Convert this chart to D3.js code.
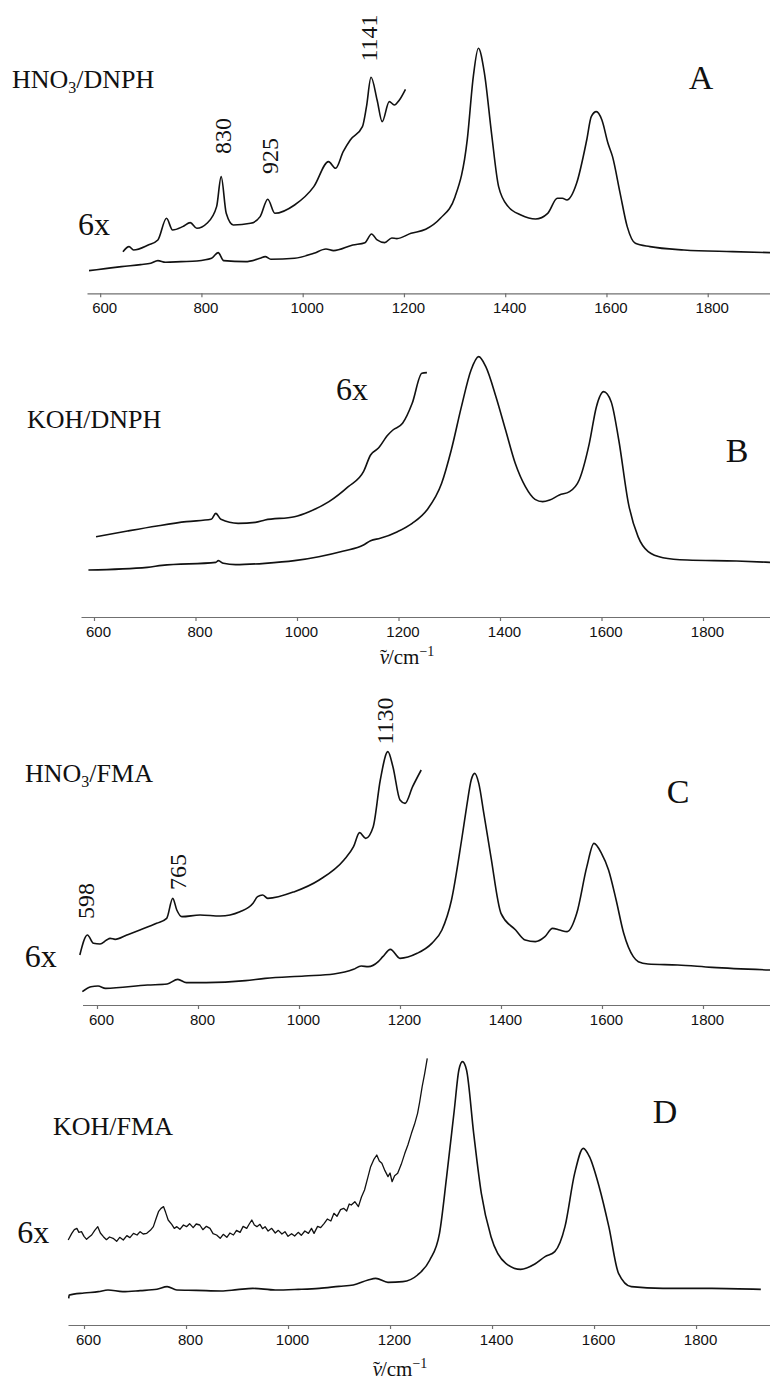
<!DOCTYPE html>
<html>
<head>
<meta charset="utf-8">
<script src="https://cdn.jsdelivr.net/npm/d3@7"></script>
<style>
body { margin: 0; background: #fff; }
.spec { fill: none; stroke: #111; stroke-width: 1.6; stroke-linejoin: round; }
.spec--noisy { stroke-width: 1.3; }
.axis path, .axis line { stroke: #707070; stroke-width: 1.2; }
.axis text { font-family: "Liberation Sans", Arial, sans-serif; font-size: 15px; fill: #111; }
.serif { font-family: "Liberation Serif", "Times New Roman", serif; fill: #111; }
</style>
</head>
<body>
<svg id="chart" width="770" height="1383"></svg>
<script>
/* global d3 */

// tick labels shared by the four panels (cm-1)
const tickValues = [600, 800, 1000, 1200, 1400, 1600, 1800]

// spectra: [wavenumber cm-1, intensity a.u.]
const specAMain = [[578,6.8],[610,7.4],[642,8.0],[680,8.6],[700,9.0],[714,9.8],[729,9.3],[760,9.5],[791,9.7],[820,10.5],[833,12.2],[844,9.8],[887,9.5],[916,10.5],[926,11.0],[937,10.2],[984,10.5],[1022,12.0],[1046,13.3],[1061,12.8],[1099,14.5],[1123,15.2],[1136,17.8],[1147,16.0],[1162,15.2],[1176,16.6],[1186,16.4],[1214,18.0],[1243,19.2],[1272,22.5],[1301,29.0],[1325,46.0],[1337,65.0],[1347,73.5],[1359,66.0],[1373,48.0],[1387,32.0],[1406,26.0],[1431,23.5],[1460,22.3],[1484,24.0],[1503,28.5],[1513,28.5],[1522,28.0],[1541,33.0],[1561,46.0],[1570,53.0],[1580,54.5],[1591,52.0],[1603,45.0],[1612,41.0],[1627,30.0],[1641,20.0],[1657,15.0],[1686,14.0],[1753,13.0],[1849,12.5],[1923,12.2]]
const specA6x = [[645,12.5],[657,14.0],[666,13.0],[695,14.5],[714,16.0],[731,22.5],[743,19.0],[763,20.0],[778,21.2],[791,19.5],[811,21.0],[830,26.0],[839,35.0],[849,24.0],[863,20.5],[897,21.0],[916,23.0],[931,28.2],[945,24.0],[984,26.5],[1022,32.0],[1051,39.5],[1065,37.5],[1080,42.5],[1094,46.0],[1118,50.0],[1126,56.0],[1135,64.8],[1147,58.0],[1157,51.5],[1171,57.5],[1181,56.5],[1191,58.0],[1203,61.2]]

const specBMain = [[589,14.1],[705,14.9],[734,15.5],[840,16.4],[845,16.9],[855,16.1],[879,15.7],[937,16.1],[995,16.9],[1043,18.1],[1092,19.8],[1131,21.6],[1145,22.9],[1164,23.6],[1198,25.6],[1227,28.1],[1256,32.1],[1285,40.1],[1304,50.1],[1324,63.1],[1343,74.1],[1358,78.1],[1372,75.1],[1392,66.1],[1411,56.1],[1430,46.1],[1450,39.1],[1469,35.3],[1484,34.6],[1498,35.1],[1517,36.6],[1537,37.6],[1556,41.1],[1576,52.1],[1590,63.1],[1604,67.6],[1619,64.6],[1634,53.1],[1653,34.1],[1672,24.1],[1692,19.6],[1721,17.8],[1769,17.1],[1866,16.8],[1932,16.4]]
const specB6x = [[604,24.1],[666,25.8],[724,27.3],[782,28.6],[831,29.3],[840,31.1],[850,29.3],[884,28.1],[918,28.4],[937,29.1],[995,30.1],[1024,31.6],[1063,34.6],[1101,39.1],[1131,43.6],[1145,48.6],[1160,50.6],[1179,54.6],[1189,56.1],[1208,58.1],[1227,64.1],[1246,73.1],[1256,73.3]]

const specCMain = [[571,4.0],[588,5.5],[602,5.7],[617,5.0],[700,6.0],[739,6.3],[760,7.7],[777,6.7],[816,6.7],[894,7.3],[933,8.0],[1011,8.7],[1069,9.3],[1108,10.7],[1123,11.7],[1137,11.5],[1157,13.0],[1166,14.5],[1181,16.7],[1200,14.0],[1234,15.5],[1263,18.5],[1283,22.5],[1302,31.5],[1322,49.5],[1332,59.5],[1341,67.5],[1348,69.5],[1356,66.5],[1366,57.5],[1380,44.5],[1400,27.5],[1429,22.5],[1448,19.5],[1468,19.0],[1487,20.5],[1502,23.0],[1516,22.5],[1531,22.0],[1550,27.5],[1570,41.5],[1584,48.5],[1599,45.5],[1613,40.5],[1628,31.5],[1643,21.5],[1662,14.5],[1672,13.0],[1691,12.3],[1750,12.0],[1818,11.3],[1933,10.5]]
const specC6x = [[566,15.0],[581,21.0],[593,18.5],[606,18.3],[619,19.5],[626,20.0],[636,19.7],[659,21.0],[685,22.5],[718,24.5],[738,26.0],[750,32.0],[758,28.5],[768,26.5],[804,27.0],[844,26.7],[883,28.0],[909,30.5],[918,32.5],[928,33.0],[938,32.0],[991,34.0],[1040,37.5],[1089,43.5],[1108,47.5],[1120,51.7],[1132,50.0],[1147,53.5],[1161,67.5],[1176,76.0],[1186,71.5],[1200,61.5],[1210,60.5],[1225,65.5],[1242,70.5]]

const specDMain = [[570,8.0],[571,9.0],[600,9.6],[628,10.0],[647,10.5],[676,10.0],[710,10.3],[743,10.7],[763,11.5],[782,10.5],[820,10.4],[869,10.2],[900,10.6],[931,11.0],[975,10.5],[1020,10.7],[1061,11.0],[1100,11.6],[1128,12.0],[1157,13.5],[1172,14.0],[1196,12.8],[1225,13.0],[1254,15.0],[1278,19.5],[1297,27.5],[1311,44.5],[1326,64.5],[1335,76.5],[1342,79.0],[1350,76.5],[1364,57.5],[1379,39.5],[1398,26.5],[1427,18.5],[1456,16.7],[1484,18.3],[1504,20.5],[1523,22.0],[1543,29.5],[1562,45.5],[1579,53.0],[1591,50.5],[1610,41.5],[1629,29.5],[1648,15.5],[1673,11.5],[1735,11.0],[1831,11.0],[1927,10.7]]
const specD6x = [[569,25.5],[576,27.5],[581,28.6],[586,29.0],[590,27.8],[595,28.0],[600,26.6],[605,25.7],[610,26.4],[615,27.0],[621,28.4],[627,29.5],[632,27.6],[638,26.5],[644,25.6],[650,26.4],[657,26.0],[664,25.1],[670,26.3],[677,25.5],[684,26.8],[690,26.2],[697,27.5],[704,27.0],[710,28.0],[716,27.3],[723,27.5],[730,28.4],[736,29.5],[741,31.8],[746,34.0],[751,35.0],[756,35.5],[760,33.8],[765,31.5],[772,30.2],[777,29.0],[782,29.5],[788,28.7],[795,30.0],[801,29.5],[807,30.4],[814,29.2],[820,30.3],[827,30.0],[833,28.6],[840,29.6],[847,29.0],[853,27.4],[860,27.0],[867,26.0],[873,27.2],[880,26.3],[886,27.6],[893,27.0],[899,28.4],[906,27.8],[912,29.6],[919,29.0],[924,30.3],[929,31.5],[934,30.0],[939,29.5],[945,30.2],[950,28.9],[955,29.5],[961,28.2],[968,29.0],[975,27.6],[981,28.4],[988,27.3],[994,28.0],[1000,26.6],[1007,27.4],[1013,26.7],[1020,27.8],[1026,26.9],[1033,28.2],[1040,27.5],[1046,29.0],[1051,27.5],[1058,29.6],[1064,29.2],[1071,30.5],[1077,31.8],[1084,31.2],[1090,33.5],[1096,32.6],[1103,34.6],[1109,35.0],[1115,34.2],[1120,36.3],[1124,36.0],[1131,37.0],[1138,35.5],[1144,38.4],[1150,40.5],[1156,44.0],[1162,47.5],[1168,49.6],[1174,51.0],[1179,49.2],[1184,48.5],[1190,46.3],[1196,44.5],[1200,45.6],[1204,43.0],[1209,44.8],[1215,45.5],[1222,48.2],[1229,51.5],[1235,54.0],[1242,57.5],[1248,60.2],[1254,63.5],[1258,66.8],[1263,71.5],[1268,75.5],[1273,80.0]]

// peak annotations: [wavenumber, intensity, label]
const peaksA = [[1131, 76.6, '1141'], [841, 47.2, '830'], [935, 41.2, '925']]
const peaksC = [[578, 31.2, '598'], [760, 39.9, '765'], [1170, 85.2, '1130']]

// "6x" tag anchor: [wavenumber, intensity]
const tagA = [556, 17.5]
const tagB = [1077, 65.1]
const tagC = [457, 11.4]
const tagD = [469, 24.6]

const panels = [
    { letter: 'A', name: ['HNO', '3', '/DNPH'], axisY: 293.3, x0: 87, domain: [574, 1923],
      main: specAMain, zoom: specA6x, peaks: peaksA, tag: tagA,
      nameAt: [12, 88], letterAt: [701, 89], title: null },
    { letter: 'B', name: ['KOH/DNPH'], axisY: 617, x0: 81, domain: [574.4, 1932],
      main: specBMain, zoom: specB6x, peaks: [], tag: tagB,
      nameAt: [27, 428], letterAt: [737, 462], title: [407, 664] },
    { letter: 'C', name: ['HNO', '3', '/FMA'], axisY: 1005, x0: 82.5, domain: [571.3, 1932.7],
      main: specCMain, zoom: specC6x, peaks: peaksC, tag: tagC,
      nameAt: [25, 782], letterAt: [678, 803], title: null },
    { letter: 'D', name: ['KOH/FMA'], axisY: 1325, x0: 68, domain: [568.6, 1945],
      main: specDMain, zoom: specD6x, peaks: [], tag: tagD,
      nameAt: [53, 1135], letterAt: [665, 1123], title: [400, 1376], noisy: true }
]

const svg = d3.select('#chart')
svg.append('rect').attr('width', 770).attr('height', 1383).attr('fill', '#fff')

panels.forEach(p => {
    const g = svg.append('g')

    const x = d3.scaleLinear().domain(p.domain).range([p.x0, 770])
    const y = d3.scaleLinear().domain([0, 30]).range([p.axisY, p.axisY - 100])

    const line = d3.line()
        .x(d => x(d[0]))
        .y(d => y(d[1]))
        .curve(d3.curveMonotoneX)

    // x axis
    const ax = g.append('g')
        .attr('class', 'axis')
        .attr('transform', `translate(0, ${p.axisY})`)
        .call(
            d3.axisBottom(x)
            .tickValues(tickValues)
            .tickSize(4)
            .tickSizeOuter(0)
            .tickPadding(5)
            .tickFormat(d3.format('d'))
        )
    ax.selectAll('text').attr('dx', 4)

    g.append('path').datum(p.main).attr('class', 'spec').attr('d', line)
    g.append('path').datum(p.zoom)
        .attr('class', p.noisy ? 'spec spec--noisy' : 'spec')
        .attr('d', p.noisy ? line.curve(d3.curveLinear) : line)

    // sample name
    const nm = g.append('text').attr('class', 'serif')
        .attr('x', p.nameAt[0]).attr('y', p.nameAt[1])
        .style('font-size', '26px')
    nm.append('tspan').text(p.name[0])
    if (p.name.length > 1) {
        nm.append('tspan').text(p.name[1]).style('font-size', '16px').attr('dy', 5)
        nm.append('tspan').text(p.name[2]).attr('dy', -5)
    }

    // panel letter
    g.append('text').attr('class', 'serif')
        .attr('x', p.letterAt[0]).attr('y', p.letterAt[1])
        .attr('text-anchor', 'middle')
        .style('font-size', '34px')
        .text(p.letter)

    // 6x tag
    g.append('text').attr('class', 'serif')
        .attr('x', x(p.tag[0])).attr('y', y(p.tag[1]))
        .style('font-size', '32px')
        .text('6x')

    // peak labels, rotated
    g.selectAll('.peakLabel')
        .data(p.peaks)
        .join('text')
        .attr('class', 'serif peakLabel')
        .attr('transform', d => `translate(${x(d[0])}, ${y(d[1])}) rotate(-90)`)
        .attr('text-anchor', 'middle')
        .attr('dy', '0.35em')
        .style('font-size', '24px')
        .text(d => d[2])

    // axis title: nu-tilde / cm^-1
    if (p.title) {
        const t = g.append('text').attr('class', 'serif')
            .attr('x', p.title[0]).attr('y', p.title[1])
            .attr('text-anchor', 'middle')
            .style('font-size', '21px')
        t.append('tspan').text('\u03bd').style('font-style', 'italic')
        t.append('tspan').text('\u02dc').attr('dx', -9)
        t.append('tspan').text('/cm').attr('dx', 1)
        t.append('tspan').text('\u22121').style('font-size', '14px').attr('dy', -8)
    }
})
</script>
</body>
</html>
